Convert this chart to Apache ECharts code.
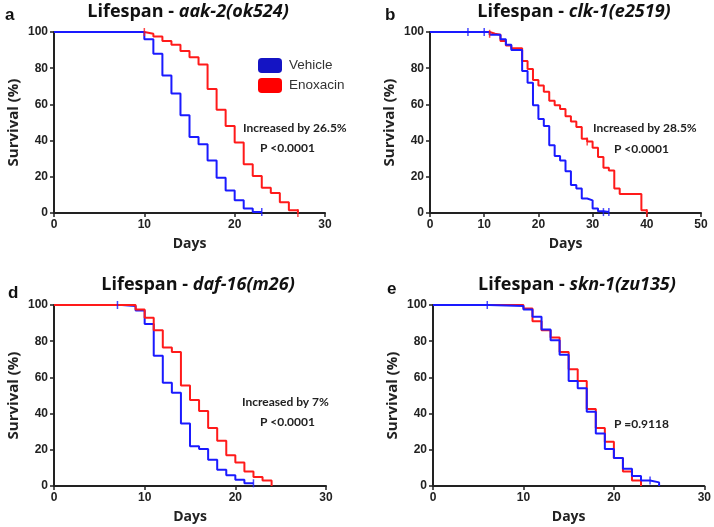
<!DOCTYPE html>
<html>
<head>
<meta charset="utf-8">
<script src="https://cdn.jsdelivr.net/npm/echarts@6/dist/echarts.min.js"></script>
<style>
  html, body { margin: 0; padding: 0; background: #fff; }
  #chart { width: 714px; height: 527px; }
</style>
</head>
<body>
<div id="chart"></div>
<script>
// survival values (day, % alive)
// a - aak-2(ok524)
var aakVehDays = [0, 10, 11, 12, 13, 14, 15, 16, 17, 18, 19, 20, 21, 22, 23];
var aakVehVals = [100, 96, 88, 76, 66, 54, 42, 38, 29, 19.5, 12.5, 7, 2.5, 0.5, 0.5];
var aakEnoDays = [10, 10.2, 11, 12, 13, 14, 15, 16, 17, 18, 19, 20, 21, 22, 23, 24, 25, 26, 27];
var aakEnoVals = [100, 99, 97.5, 95, 93, 89.5, 86, 82, 68.5, 57, 48, 39, 27, 20.5, 14, 11, 6, 1.5, 0];
// b - clk-1(e2519)
var clkVehDays = [0, 11, 13, 14, 15, 17, 18, 19, 20, 21, 22, 23, 24, 25, 26, 27, 28, 29, 30, 31, 32, 33];
var clkVehVals = [100, 98.5, 96, 93, 90, 78.5, 72, 59.5, 52, 48, 37.5, 31.5, 29, 23, 15.5, 13.5, 8, 7, 2.5, 1, 0.5, 0.5];
var clkEnoDays = [0, 11, 12, 13, 14, 15, 17, 18, 19, 20, 21, 22, 23, 24, 25, 26, 27, 28, 29, 30, 31, 32, 33, 34, 35, 39, 40];
var clkEnoVals = [100, 99, 98.5, 95, 92.5, 91, 84, 79.5, 73.5, 70.5, 67, 62, 59.5, 57.5, 53.5, 50.5, 47.5, 41, 39.5, 36, 31, 25, 23.5, 13.5, 10.5, 1.5, 0];
// d - daf-16(m26)
var dafVehDays = [7, 7.5, 9, 10, 11, 12, 13, 14, 15, 16, 17, 18, 19, 20, 21, 22];
var dafVehVals = [100, 99.5, 97, 89.5, 72, 57, 51.5, 34.5, 22, 20.5, 14.5, 9, 6, 3.5, 1.5, 1.5];
var dafEnoDays = [0, 9, 10, 11, 12, 13, 14, 15, 16, 17, 18, 19, 20, 21, 22, 23, 24];
var dafEnoVals = [100, 97.5, 93, 86, 76.5, 74, 55.5, 47.5, 41.5, 32, 25, 17, 13, 8, 5, 3, 0];
// e - skn-1(zu135)
var sknVehDays = [0, 6.2, 10, 11, 12, 13, 14, 15, 16, 17, 18, 19, 20, 21, 22, 23, 24, 25];
var sknVehVals = [100, 99.5, 97.5, 93.5, 86.5, 80.5, 72.5, 58, 54, 41, 29, 20.5, 15.5, 9.5, 5.5, 3, 2, 0];
var sknEnoDays = [6, 10, 11, 12, 13, 14, 15, 16, 17, 18, 19, 20, 21, 22, 23];
var sknEnoVals = [100, 98, 91, 86, 82, 74, 64.5, 58, 42.5, 32, 24.5, 15.5, 8, 3, 0];

// censor marks
var aakVehCens = [[23, 0.5]];
var aakEnoCens = [[10, 100], [27, 0]];
var clkVehCens = [[7, 100], [10, 100], [32, 0.5], [33, 0.5]];
var clkEnoCens = [[11, 99], [29, 39.5], [40, 0]];
var dafVehCens = [[7, 100], [22, 1.5]];
var sknVehCens = [[6, 100], [24, 3]];

var yTicks = [0, 20, 40, 60, 80, 100];

var BLUE = '#1a1aff';
var RED = '#ff1a1a';
var FONT = 'Open Sans';

function zip(d, v) {
  return d.map(function (x, i) { return [x, v[i]]; });
}

var grids = [
  { left: 54, top: 32, width: 271, height: 181 },
  { left: 430, top: 32, width: 271, height: 181 },
  { left: 54, top: 305, width: 272, height: 181 },
  { left: 433, top: 305, width: 272, height: 181 }
];
var xMax = [30, 50, 30, 30];

var xAxes = [], yAxes = [];
grids.forEach(function (g, i) {
  xAxes.push({
    gridIndex: i, type: 'value', min: 0, max: xMax[i], interval: 10,
    name: 'Days', nameLocation: 'middle', nameGap: 24,
    nameTextStyle: { fontFamily: FONT, fontWeight: 'bold', fontSize: 14, color: '#222' },
    axisLine: { lineStyle: { color: '#222', width: 2 } },
    axisTick: { length: 4, lineStyle: { color: '#222', width: 1.5 } },
    axisLabel: { fontFamily: 'Liberation Sans', fontWeight: 'bold', fontSize: 12, color: '#222', margin: 6 },
    splitLine: { show: false }
  });
  yAxes.push({
    gridIndex: i, type: 'value', min: 0, max: 100, interval: 20,
    name: 'Survival (%)', nameLocation: 'middle', nameGap: 33,
    nameTextStyle: { fontFamily: FONT, fontWeight: 'bold', fontSize: 15, color: '#222' },
    axisLine: { show: true, lineStyle: { color: '#222', width: 2 } },
    axisTick: { show: true, length: 4, lineStyle: { color: '#222', width: 1.5 } },
    axisLabel: { fontFamily: 'Liberation Sans', fontWeight: 'bold', fontSize: 12, color: '#222', margin: 6,
      formatter: function (v) { return yTicks.indexOf(v) >= 0 ? v : ''; } },
    splitLine: { show: false }
  });
});

function curve(name, gi, days, vals, color, z) {
  return {
    name: name, type: 'line', step: 'end', xAxisIndex: gi, yAxisIndex: gi,
    data: zip(days, vals), symbol: 'none', silent: true, z: z,
    lineStyle: { color: color, width: 2 }, itemStyle: { color: color }
  };
}
function cens(gi, pts, color, z) {
  return {
    type: 'scatter', xAxisIndex: gi, yAxisIndex: gi, data: pts, silent: true, z: z,
    symbol: 'rect', symbolSize: [1.5, 8], itemStyle: { color: color }
  };
}

var series = [
  curve('Enoxacin', 0, aakEnoDays, aakEnoVals, RED, 2),
  curve('Vehicle', 0, aakVehDays, aakVehVals, BLUE, 3),
  cens(0, aakEnoCens, RED, 4), cens(0, aakVehCens, BLUE, 4),
  curve('Enoxacin', 1, clkEnoDays, clkEnoVals, RED, 2),
  curve('Vehicle', 1, clkVehDays, clkVehVals, BLUE, 3),
  cens(1, clkEnoCens, RED, 4), cens(1, clkVehCens, BLUE, 4),
  curve('Vehicle', 2, dafVehDays, dafVehVals, BLUE, 2),
  curve('Enoxacin', 2, dafEnoDays, dafEnoVals, RED, 3),
  cens(2, dafVehCens, BLUE, 4),
  curve('Enoxacin', 3, sknEnoDays, sknEnoVals, RED, 2),
  curve('Vehicle', 3, sknVehDays, sknVehVals, BLUE, 3),
  cens(3, sknVehCens, BLUE, 4)
];

var rich = {
  n: { fontFamily: FONT, fontWeight: 'bold', fontSize: 18, color: '#111' },
  i: { fontFamily: FONT, fontWeight: 'bold', fontStyle: 'italic', fontSize: 18, color: '#111' }
};
function ttl(str, gene, x, y) {
  return { text: '{n|' + str + '}{i|' + gene + '}', left: x, top: y, textAlign: 'center',
    textStyle: { rich: rich } };
}
function lbl(ch, x, y) {
  return { text: ch, left: x, top: y, textStyle: { fontFamily: 'Liberation Sans', fontWeight: 'bold', fontSize: 17, color: '#111' } };
}

function note(txt, x, y) {
  return { type: 'text', left: x, top: y,
    style: { text: txt, fontFamily: 'Lato', fontWeight: 'bold', fontSize: 12, fill: '#222' } };
}

var option = {
  animation: false,
  backgroundColor: '#fff',
  title: [
    ttl('Lifespan - ', 'aak-2(ok524)', 183, -2),
    ttl('Lifespan - ', 'clk-1(e2519)', 569, -2),
    ttl('Lifespan - ', 'daf-16(m26)', 193, 271),
    ttl('Lifespan - ', 'skn-1(zu135)', 572, 271),
    lbl('a', 0, 2), lbl('b', 380, 2), lbl('d', 3, 280), lbl('e', 382, 276)
  ],
  legend: {
    left: 253, top: 53, orient: 'vertical', itemGap: 5,
    itemWidth: 24, itemHeight: 15, icon: 'roundRect',
    textStyle: { fontFamily: 'Liberation Sans', fontSize: 13.5, color: '#333', padding: [0, 0, 0, 2] },
    data: [
      { name: 'Vehicle', itemStyle: { color: '#1414c4' } },
      { name: 'Enoxacin', itemStyle: { color: '#ff0000' } }
    ],
    selectedMode: false
  },
  grid: grids,
  xAxis: xAxes,
  yAxis: yAxes,
  series: series,
  graphic: [
    note('Increased by 26.5%', 243, 122),
    note('P <0.0001', 260, 142),
    note('Increased by 28.5%', 593, 122),
    note('P <0.0001', 614, 143),
    note('Increased by 7%', 242, 396),
    note('P <0.0001', 260, 416),
    note('P =0.9118', 614, 418)
  ]
};

var chart = echarts.init(document.getElementById('chart'), null, { renderer: 'canvas' });
chart.setOption(option);
</script>
</body>
</html>
